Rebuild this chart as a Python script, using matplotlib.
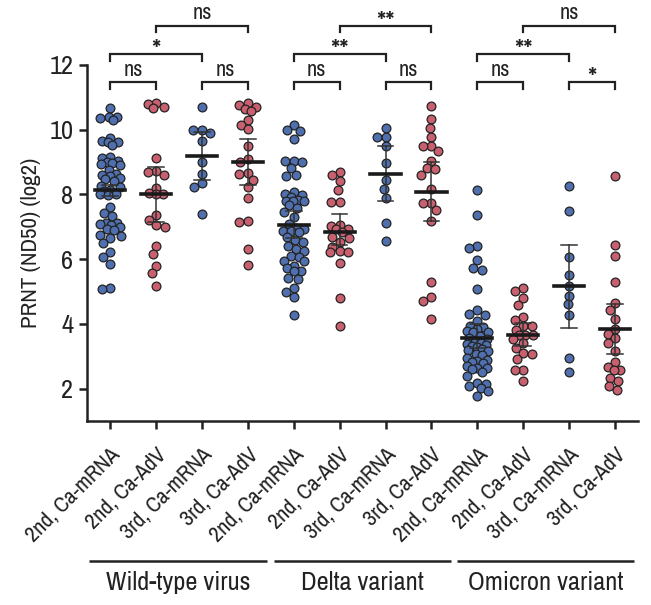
import numpy as np
import matplotlib
matplotlib.use("Agg")
import matplotlib.pyplot as plt
import matplotlib.transforms as mtransforms
from matplotlib import font_manager

# pick a narrow font if one is installed, otherwise Roboto
names = sorted({f.name for f in font_manager.fontManager.ttflist})
narrow = [n for n in names if 'Narrow' in n or 'Condensed' in n]
main_font = narrow[0] if narrow else 'Roboto'
plt.rcParams['font.family'] = [main_font, 'DejaVu Sans']

# Data: PRNT (ND50, log2) per group
wt_2_mrna = [10.66, 10.40, 10.38, 10.36, 10.28, 9.75, 9.65, 9.62, 9.60, 9.52,
             9.15, 9.12, 9.02, 9.00, 8.98, 8.95, 8.90, 8.75, 8.62, 8.60,
             8.55, 8.50, 8.48, 8.40, 8.25, 8.22, 8.12, 8.10, 8.02, 8.00,
             7.98, 7.60, 7.42, 7.32, 7.12, 7.10, 7.08, 7.05, 7.00, 6.92,
             6.90, 6.75, 6.72, 6.65, 6.50, 6.22, 6.06, 5.85, 5.12, 5.08]
wt_2_adv = [10.82, 10.78, 10.70, 10.66, 9.13, 8.71, 8.68, 8.60, 8.20, 8.03,
            8.02, 8.00, 7.37, 7.22, 7.04, 7.00, 6.41, 6.16, 5.80, 5.56, 5.16]
wt_3_mrna = [10.71, 10.00, 9.98, 9.90, 9.65, 9.00, 8.64, 8.35, 8.23, 7.38]
wt_3_adv = [10.81, 10.76, 10.69, 10.63, 10.58, 10.29, 10.14, 10.01, 9.49, 9.10,
            9.00, 8.66, 8.64, 8.45, 8.23, 7.88, 7.19, 7.14, 6.31, 5.83]

delta_2_mrna = [10.14, 9.98, 9.96, 9.70, 9.03, 9.02, 9.00, 8.80, 8.59, 8.57,
                8.07, 8.00, 7.99, 7.92, 7.81, 7.80, 7.79, 7.78, 7.66, 7.57,
                7.45, 7.31, 7.09, 6.95, 6.93, 6.88, 6.86, 6.83, 6.69, 6.59,
                6.52, 6.41, 6.31, 6.26, 6.10, 6.05, 5.95, 5.94, 5.80, 5.74,
                5.64, 5.62, 5.43, 5.38, 5.12, 5.00, 4.84, 4.27]
delta_2_adv = [8.69, 8.59, 8.40, 8.14, 7.76, 7.75, 7.04, 7.02, 6.94, 6.92,
               6.83, 6.68, 6.66, 6.52, 6.38, 6.24, 6.23, 6.22, 5.87, 4.79, 3.93]
delta_3_mrna = [10.06, 9.78, 9.77, 9.49, 8.98, 8.43, 8.17, 7.90, 7.12, 6.57]
delta_3_adv = [10.73, 10.32, 10.06, 9.76, 9.49, 9.48, 9.34, 9.03, 8.80, 8.79,
               8.59, 8.17, 7.74, 7.73, 7.52, 7.19, 5.30, 4.82, 4.71, 4.16]

omi_2_mrna = [8.12, 7.37, 6.41, 6.33, 5.98, 5.74, 5.66, 5.09, 4.42, 4.30,
              4.28, 4.09, 3.93, 3.90, 3.85, 3.78, 3.76, 3.74, 3.62, 3.58,
              3.52, 3.45, 3.40, 3.37, 3.35, 3.33, 3.30, 3.22, 3.20, 3.15,
              3.06, 3.04, 2.96, 2.90, 2.85, 2.81, 2.79, 2.70, 2.65, 2.63,
              2.60, 2.50, 2.38, 2.18, 2.16, 2.07, 2.02, 1.92, 1.76]
omi_2_adv = [5.11, 5.03, 4.80, 4.59, 4.22, 4.12, 3.93, 3.92, 3.80, 3.67,
             3.66, 3.65, 3.52, 3.40, 3.27, 3.11, 3.06, 2.92, 2.59, 2.58, 2.25]
omi_3_mrna = [8.25, 7.47, 6.05, 5.52, 5.18, 4.86, 4.60, 4.27, 2.96, 2.53]
omi_3_adv = [8.56, 6.44, 6.11, 5.30, 4.63, 4.42, 4.14, 3.83, 3.70, 3.55,
             3.40, 3.16, 2.82, 2.67, 2.59, 2.58, 2.34, 2.23, 2.08, 1.97]

groups = [wt_2_mrna, wt_2_adv, wt_3_mrna, wt_3_adv,
          delta_2_mrna, delta_2_adv, delta_3_mrna, delta_3_adv,
          omi_2_mrna, omi_2_adv, omi_3_mrna, omi_3_adv]
tick_labels = ['2nd, Ca-mRNA', '2nd, Ca-AdV', '3rd, Ca-mRNA', '3rd, Ca-AdV'] * 3
variants = ['Wild-type virus', 'Delta variant', 'Omicron variant']

# median and interval
medians = [8.12, 8.02, 9.19, 9.00, 7.06, 6.83, 8.63, 8.07, 3.58, 3.65, 5.18, 3.83]
ci_low = [7.95, 7.16, 8.45, 8.28, 6.66, 6.45, 7.79, 7.19, 3.27, 3.32, 3.88, 3.06]
ci_high = [8.30, 8.85, 9.92, 9.72, 7.48, 7.40, 9.49, 9.00, 4.00, 4.04, 6.44, 4.60]

# significance brackets: (left, right, label, level)
comparisons = [(0, 1, 'ns', 0), (2, 3, 'ns', 0), (0, 2, '*', 1), (1, 3, 'ns', 2),
               (4, 5, 'ns', 0), (6, 7, 'ns', 0), (4, 6, '**', 1), (5, 7, '**', 2),
               (8, 9, 'ns', 0), (10, 11, '*', 0), (8, 10, '**', 1), (9, 11, 'ns', 2)]

blue = '#4f6fae'
red = '#c9606f'
ink = '#222222'


def swarm(vals, xc, ppx=46.0, ppy=32.2, d=8.5, cap=10.5):
    # beeswarm in pixel space, width capped so dense groups overlap
    vals = np.asarray(vals)
    order = np.argsort(-vals)
    grid = np.linspace(-cap, cap, 43)
    grid = grid[np.argsort(np.abs(grid), kind='stable')]
    placed = []
    xs = np.zeros(len(vals))
    for i in order:
        y = vals[i] * ppy
        best, best_d = 0.0, -1.0
        for c in grid:
            md = min([np.hypot(c - px, y - py) for px, py in placed] or [99.0])
            if md >= d:
                best = c
                break
            if md > best_d + 0.5:
                best, best_d = c, md
        placed.append((best, y))
        xs[i] = xc + best / ppx
    return xs


fig = plt.figure(figsize=(6.51, 6.05), dpi=100)
ax = fig.add_axes([0.134, 0.304, 0.846, 0.589])

for i, vals in enumerate(groups):
    col = blue if i % 2 == 0 else red
    xs = swarm(vals, i)
    ax.scatter(xs, vals, s=40, c=col, edgecolors=ink, linewidths=0.9, zorder=2)
    ax.plot([i, i], [ci_low[i], ci_high[i]], color='#333333', lw=1.1, zorder=3)
    for yv in (ci_low[i], ci_high[i]):
        ax.plot([i - 0.17, i + 0.17], [yv, yv], color='#333333', lw=1.1, zorder=3)
    ax.plot([i - 0.33, i + 0.33], [medians[i], medians[i]], color='#1a1a1a', lw=2.6, zorder=4)

levels = [11.46, 12.33, 13.21]
leg = 0.2
for a, b, lab, lv in comparisons:
    y = levels[lv]
    ax.plot([a, a, b, b], [y - leg, y, y, y - leg], color=ink, lw=1.6,
            clip_on=False, solid_joinstyle='miter')
    if lab == 'ns':
        ax.text((a + b) / 2, y + 0.19, lab, ha='center', va='baseline',
                fontsize=16, color=ink)
    else:
        ax.text((a + b) / 2, y - 0.16, lab, ha='center', va='baseline',
                fontsize=21, color=ink)

ax.set_xlim(-0.5, 11.5)
ax.set_ylim(1, 12)
ax.set_yticks([2, 4, 6, 8, 10, 12])
ax.set_xticks(range(12))
ax.set_xticklabels(tick_labels, rotation=45, ha='right', va='top',
                   rotation_mode='anchor', fontsize=16)
shift = mtransforms.ScaledTranslation(0.07, 0, fig.dpi_scale_trans)
for lbl in ax.get_xticklabels():
    lbl.set_transform(lbl.get_transform() + shift)
ax.tick_params(axis='both', width=1.8, length=6, color=ink, labelcolor=ink)
ax.tick_params(axis='y', labelsize=19, pad=4)
ax.tick_params(axis='x', pad=11)
ax.set_ylabel('PRNT (ND50) (log2)', fontsize=16.5, color=ink, labelpad=6)
for s in ('top', 'right'):
    ax.spines[s].set_visible(False)
for s in ('left', 'bottom'):
    ax.spines[s].set_linewidth(1.8)
    ax.spines[s].set_color(ink)

# variant group lines and labels
spans = [(-0.457, 3.41), (3.565, 7.435), (7.565, 11.41)]
for (x0, x1), name in zip(spans, variants):
    ax.plot([x0, x1], [-0.392, -0.392], transform=ax.get_xaxis_transform(),
            color=ink, lw=1.8, clip_on=False, solid_capstyle='butt')
    ax.text((x0 + x1) / 2, -0.452, name, transform=ax.get_xaxis_transform(),
            ha='center', va='center', fontsize=19, color=ink)

fig.savefig('out.png', dpi=100)
